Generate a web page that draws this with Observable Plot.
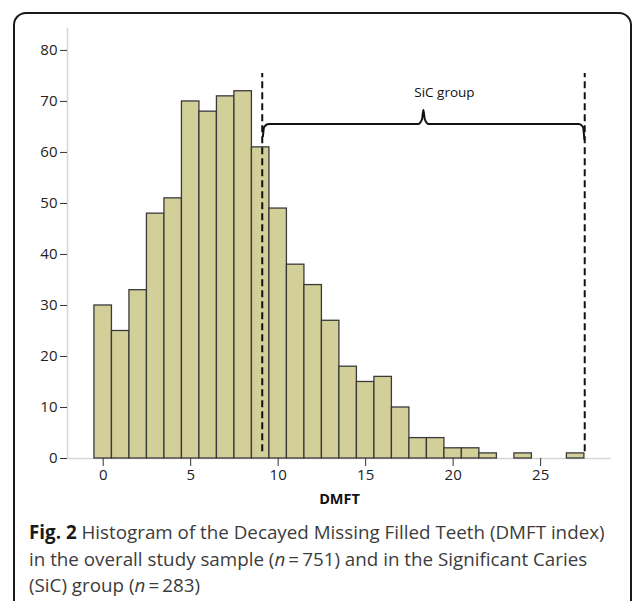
<!DOCTYPE html>
<html><head><meta charset="utf-8">
<script src="https://cdn.jsdelivr.net/npm/d3@7"></script>
<script src="https://cdn.jsdelivr.net/npm/@observablehq/plot@0.6"></script>
<style>
html,body{margin:0;padding:0;background:#fff;width:633px;height:601px;overflow:hidden;}
#frame{position:absolute;left:13px;top:12px;width:619px;height:640px;box-sizing:border-box;border:2px solid #1a1a1a;border-radius:13px;}
#chart{position:absolute;left:0;top:0;}
#chart svg g[aria-label*="tick label"], #chart svg g[aria-label*="tick label"] text{font-size:15px !important;fill:#222;}
#caption{position:absolute;left:29px;top:519px;font-family:"Open Sans";font-size:18.8px;line-height:26.5px;color:#3c3c3c;white-space:nowrap;}
#caption b{color:#1a1a1a;}
</style></head>
<body>
<div id="frame"></div>
<div id="chart"></div>
<div id="caption"><b>Fig. 2</b> Histogram of the Decayed Missing Filled Teeth (DMFT index)<br>in the overall study sample (<i>n</i>&#8201;=&#8201;751) and in the Significant Caries<br>(SiC) group (<i>n</i>&#8201;=&#8201;283)</div>
<script>
// DMFT values (bin centres) and counts
const dmft = [0,1,2,3,4,5,6,7,8,9,10,11,12,13,14,15,16,17,18,19,20,21,22,23,24,25,26,27];
const counts = [30,25,33,48,51,70,68,71,72,61,49,38,34,27,18,15,16,10,4,4,2,2,1,0,1,0,0,1];
const xTicks = [0,5,10,15,20,25];
const yTicks = [0,10,20,30,40,50,60,70,80];
const xLabel = "DMFT";
// SiC group annotation
const sicBounds = [9.09, 27.52];
const sicLineRange = [1.3, 75.5];
const braceX = [9.13, 9.2, 9.45, 18.0, 18.22, 18.3, 18.38, 18.6, 27.2, 27.42, 27.5];
const braceY = [63.2, 65.0, 65.6, 65.6, 66.5, 68.3, 66.5, 65.6, 65.6, 65.0, 62.6];
const sicLabel = "SiC group";
const sicLabelPos = [19.5, 71.8];

const bins = dmft.map((v, i) => ({v, count: counts[i]})).filter(d => d.count > 0);
const brace = braceX.map((x, i) => ({x, y: braceY[i]}));

const chart = Plot.plot({
  width: 633, height: 515,
  marginLeft: 67, marginRight: 22, marginTop: 28, marginBottom: 57,
  x: {domain: [-2.04, 29.05]},
  y: {domain: [0, 84.3]},
  style: {fontFamily: "Open Sans", fontSize: "15px", color: "#222", background: "transparent"},
  marks: [
    Plot.ruleX([-2.04], {stroke: "#d6d6d6", strokeWidth: 1.5}),
    Plot.ruleY([0], {stroke: "#d6d6d6", strokeWidth: 1.5}),
    Plot.rectY(bins, {x1: d => d.v - 0.5, x2: d => d.v + 0.5, y: "count", fill: "#d3cf98", stroke: "#3a3a3a", strokeWidth: 1.3}),
    Plot.axisY({ticks: yTicks, tickSize: 7, tickPadding: 3, label: null, stroke: "#333", fontSize: 15, fill: "#222"}),
    Plot.axisX({ticks: xTicks, tickSize: 8, tickPadding: 3, label: null, stroke: "#333", fontSize: 15, fill: "#222"}),
    Plot.text([xLabel], {frameAnchor: "bottom", dy: 45, fontWeight: "bold", fontSize: 14.5, fill: "#111"}),
    Plot.ruleX(sicBounds, {y1: sicLineRange[0], y2: sicLineRange[1], stroke: "#111", strokeWidth: 2, strokeDasharray: "7,4"}),
    Plot.line(brace, {x: "x", y: "y", stroke: "#111", strokeWidth: 2, curve: "monotone-x"}),
    Plot.text([sicLabel], {x: () => sicLabelPos[0], y: () => sicLabelPos[1], fontSize: 13.5, fill: "#111"})
  ]
});
document.getElementById("chart").appendChild(chart);
</script>
</body></html>
